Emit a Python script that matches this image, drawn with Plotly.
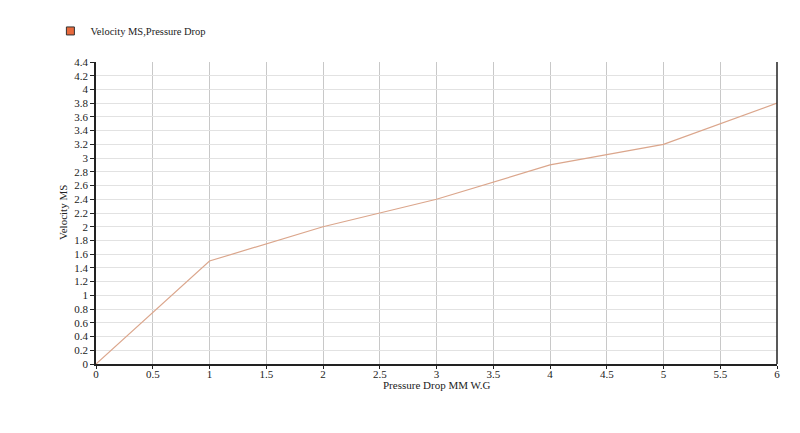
import plotly.graph_objects as go

pressure_drop = [0, 1, 2, 3, 4, 5, 6]
velocity = [0, 1.5, 2.0, 2.4, 2.9, 3.2, 3.8]
series_name = "Velocity MS,Pressure Drop"
x_title = "Pressure Drop MM W.G"
y_title = "Velocity MS"

FONT = "Liberation Serif, Times New Roman, serif"

fig = go.Figure()
fig.add_trace(go.Scatter(
    x=pressure_drop, y=velocity, mode="lines",
    line=dict(color="#dba68c", width=1.2),
    showlegend=False, hoverinfo="x+y",
))
fig.add_trace(go.Scatter(
    x=[None], y=[None], mode="markers", name=series_name,
    marker=dict(symbol="square", size=8, color="#e8693c",
                line=dict(color="#333333", width=1)),
))

fig.update_layout(
    width=800, height=433,
    margin=dict(l=88, r=31, t=54, b=77, autoexpand=False),
    paper_bgcolor="white", plot_bgcolor="white",
    font=dict(family=FONT, size=11, color="#222222"),
    legend=dict(xref="container", yref="container", x=0.053, y=0.947,
                xanchor="left", yanchor="middle",
                font=dict(family=FONT, size=10.5, color="#222222"),
                itemwidth=30, bgcolor="rgba(0,0,0,0)"),
    xaxis=dict(
        range=[0, 6], dtick=0.5, tick0=0,
        showgrid=True, gridcolor="#c8c8c8", gridwidth=1,
        showline=True, linecolor="#222222", linewidth=1.5, mirror=False,
        ticks="outside", ticklen=3, tickcolor="#222222",
        ticklabelstandoff=-4,
        zeroline=False,
        tickfont=dict(family=FONT, size=11),
    ),
    yaxis=dict(
        range=[0, 4.4], dtick=0.2, tick0=0,
        showgrid=True, gridcolor="#e2e2e2", gridwidth=1,
        showline=True, linecolor="#222222", linewidth=1.5,
        ticks="outside", ticklen=4, tickcolor="#222222",
        zeroline=False,
        tickfont=dict(family=FONT, size=11),
    ),
)
fig.add_shape(type="line", xref="paper", yref="paper", x0=1, x1=1, y0=0, y1=1,
              line=dict(color="#222222", width=1.5))
fig.add_annotation(text=x_title, xref="paper", yref="paper", x=0.5, y=0,
                   yshift=-21, showarrow=False, yanchor="middle",
                   font=dict(family=FONT, size=11, color="#222222"))
fig.add_annotation(text=y_title, xref="paper", yref="paper", x=0, y=0.5,
                   xshift=-33, showarrow=False, textangle=-90, xanchor="center",
                   font=dict(family=FONT, size=11, color="#222222"))

fig.write_html("out.html")
